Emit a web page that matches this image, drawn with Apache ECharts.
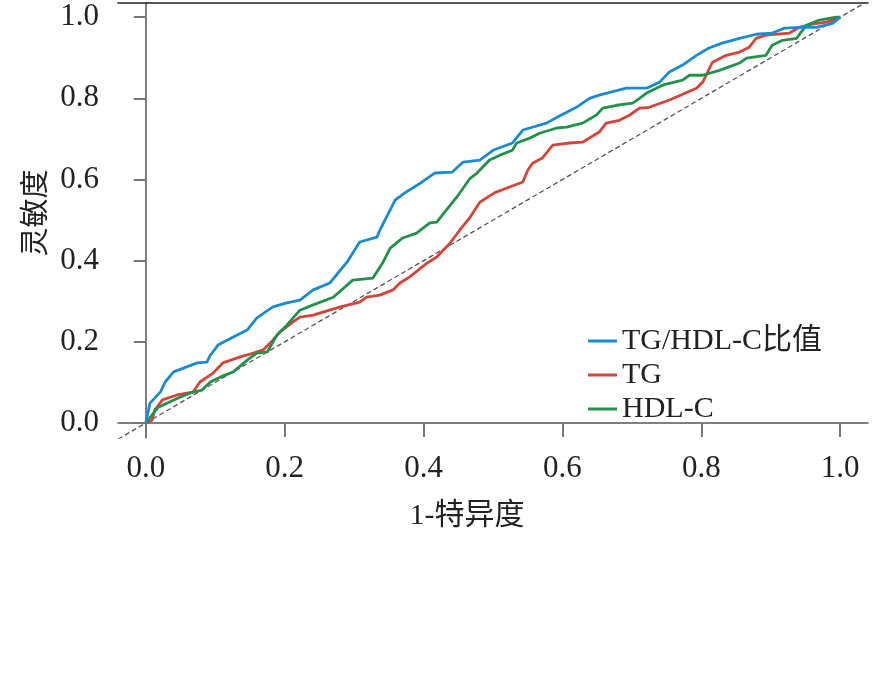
<!DOCTYPE html>
<html><head><meta charset="utf-8">
<script src="https://cdn.jsdelivr.net/npm/echarts@6/dist/echarts.min.js"></script>
<style>html,body{margin:0;padding:0;background:#fff}#c{width:894px;height:681px}</style>
</head><body><div id="c"></div>
<script>
var tickValues = [0, 0.2, 0.4, 0.6, 0.8, 1.0];
var seriesNames = ['TG/HDL-C比值', 'TG', 'HDL-C'];
var ratioROC = [[0,0],[0.006,0.049],[0.021,0.076],[0.028,0.101],[0.040,0.126],[0.074,0.148],[0.088,0.150],[0.093,0.167],[0.104,0.192],[0.126,0.212],[0.146,0.229],[0.160,0.259],[0.183,0.286],[0.203,0.296],[0.222,0.303],[0.241,0.328],[0.265,0.345],[0.290,0.397],[0.308,0.446],[0.333,0.458],[0.337,0.475],[0.354,0.532],[0.359,0.549],[0.373,0.567],[0.398,0.594],[0.416,0.616],[0.441,0.618],[0.457,0.643],[0.481,0.648],[0.500,0.672],[0.528,0.690],[0.543,0.722],[0.577,0.739],[0.593,0.754],[0.620,0.778],[0.639,0.800],[0.653,0.808],[0.692,0.825],[0.721,0.825],[0.740,0.840],[0.754,0.865],[0.773,0.882],[0.793,0.906],[0.811,0.924],[0.830,0.936],[0.855,0.948],[0.879,0.958],[0.902,0.961],[0.920,0.973],[0.941,0.975],[0.966,0.975],[0.989,0.985],[1,1]];
var tgROC = [[0,0],[0.009,0.007],[0.013,0.032],[0.024,0.057],[0.045,0.069],[0.068,0.076],[0.078,0.101],[0.097,0.123],[0.111,0.148],[0.136,0.163],[0.155,0.172],[0.169,0.180],[0.183,0.204],[0.193,0.224],[0.212,0.249],[0.222,0.261],[0.241,0.266],[0.280,0.286],[0.308,0.298],[0.318,0.310],[0.337,0.315],[0.356,0.328],[0.366,0.345],[0.380,0.360],[0.405,0.394],[0.419,0.409],[0.438,0.443],[0.452,0.475],[0.467,0.507],[0.481,0.544],[0.502,0.567],[0.520,0.579],[0.543,0.594],[0.550,0.623],[0.557,0.640],[0.571,0.653],[0.586,0.685],[0.610,0.690],[0.629,0.692],[0.653,0.717],[0.663,0.739],[0.682,0.746],[0.697,0.759],[0.711,0.776],[0.725,0.778],[0.754,0.796],[0.793,0.825],[0.802,0.840],[0.816,0.889],[0.836,0.906],[0.855,0.914],[0.869,0.926],[0.879,0.948],[0.893,0.956],[0.927,0.961],[0.941,0.975],[0.960,0.983],[0.980,0.988],[1,1]];
var hdlROC = [[0,0],[0.018,0.039],[0.031,0.049],[0.050,0.064],[0.064,0.074],[0.081,0.081],[0.093,0.101],[0.107,0.113],[0.126,0.126],[0.146,0.155],[0.160,0.172],[0.175,0.175],[0.189,0.217],[0.203,0.241],[0.222,0.278],[0.241,0.291],[0.270,0.310],[0.298,0.352],[0.327,0.357],[0.341,0.394],[0.352,0.431],[0.370,0.456],[0.390,0.468],[0.409,0.493],[0.419,0.495],[0.433,0.525],[0.448,0.557],[0.467,0.603],[0.477,0.616],[0.495,0.648],[0.510,0.660],[0.528,0.672],[0.534,0.690],[0.553,0.702],[0.567,0.714],[0.592,0.727],[0.606,0.729],[0.629,0.739],[0.649,0.759],[0.658,0.776],[0.678,0.783],[0.701,0.788],[0.711,0.800],[0.721,0.813],[0.745,0.833],[0.773,0.845],[0.783,0.857],[0.802,0.857],[0.826,0.869],[0.855,0.887],[0.865,0.899],[0.893,0.906],[0.902,0.931],[0.917,0.943],[0.937,0.948],[0.951,0.980],[0.970,0.993],[0.994,1],[1,1]];
var refLine = [[-0.04,-0.04],[1.04,1.04]];

var serif = '"Liberation Serif","Noto Sans CJK SC",serif';
var chart = echarts.init(document.getElementById('c'), null, {renderer:'canvas'});
function fmt(v){return v.toFixed(1);}
var colors = ['#1a8bd0','#d3443a','#23914a'];
chart.setOption({
  animation:false,
  backgroundColor:'#fff',
  grid:{left:118,right:26,top:3,bottom:243,containLabel:false},
  legend:{
    orient:'vertical', left:583, top:321, icon:'rect', itemWidth:29, itemHeight:3, itemGap:4,
    data:seriesNames,
    textStyle:{fontFamily:serif,fontSize:30,color:'#222',lineHeight:30}
  },
  xAxis:[{
    type:'value', min:-0.04, max:1.04,
    axisLine:{show:true,lineStyle:{color:'#555',width:1.5}},
    axisTick:{show:true,length:14,customValues:tickValues,lineStyle:{color:'#777',width:2}},
    axisLabel:{customValues:tickValues,formatter:fmt,fontFamily:serif,fontSize:31,color:'#222',margin:15},
    splitLine:{show:false}
  },{
    type:'value', position:'top', min:-0.04, max:1.04,
    axisLine:{show:true,onZero:false,lineStyle:{color:'#222',width:1.5}},
    axisTick:{show:false}, axisLabel:{show:false}, splitLine:{show:false}
  }],
  yAxis:{
    type:'value', min:-0.037, max:1.035,
    axisLine:{show:true,lineStyle:{color:'#555',width:1.5}},
    axisTick:{show:true,length:12,customValues:tickValues,lineStyle:{color:'#777',width:2}},
    axisLabel:{customValues:tickValues,formatter:fmt,fontFamily:serif,fontSize:31,color:'#222',margin:19},
    splitLine:{show:false}
  },
  graphic:[
    {type:'text',position:[467,516],style:{text:'1-特异度',font:'30px '+serif,fill:'#222',textAlign:'center',textVerticalAlign:'middle'}},
    {type:'text',rotation:Math.PI/2,position:[37,213],style:{text:'灵敏度',font:'29px '+serif,fill:'#222',textAlign:'center',textVerticalAlign:'middle'}}
  ],
  series:[
    {name:'ref',type:'line',data:refLine,symbol:'none',silent:true,clip:true,
     lineStyle:{color:'#555',width:1.3,type:[5,3]},z:1},
    {name:seriesNames[0],type:'line',data:ratioROC,symbol:'none',lineStyle:{color:colors[0],width:2.8},itemStyle:{color:colors[0]},z:4},
    {name:seriesNames[1],type:'line',data:tgROC,symbol:'none',lineStyle:{color:colors[1],width:2.8},itemStyle:{color:colors[1]},z:3},
    {name:seriesNames[2],type:'line',data:hdlROC,symbol:'none',lineStyle:{color:colors[2],width:2.8},itemStyle:{color:colors[2]},z:3}
  ]
});
</script></body></html>
